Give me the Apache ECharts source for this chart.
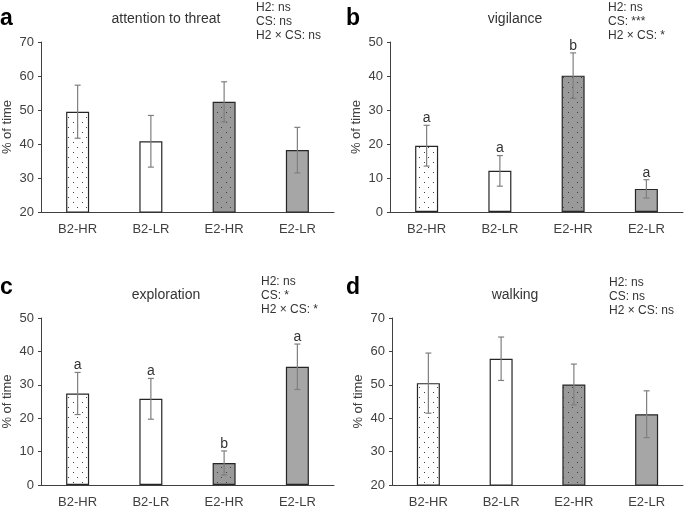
<!DOCTYPE html>
<html>
<head>
<meta charset="utf-8">
<script src="https://cdn.jsdelivr.net/npm/echarts@6/dist/echarts.min.js"></script>
<style>html,body{margin:0;padding:0;background:#fff}#c{width:685px;height:509px}</style>
</head>
<body>
<div id="c"></div>
<script>
const categories = ['B2-HR', 'B2-LR', 'E2-HR', 'E2-LR'];
const attentionMean = [49.5, 40.8, 52.4, 38.2];
const attentionErr = [7.8, 7.6, 5.9, 6.7];
const vigilanceMean = [19.5, 12.1, 40.1, 6.8];
const vigilanceErr = [6.0, 4.5, 6.7, 2.7];
const vigilanceLetters = ['a', 'a', 'b', 'a'];
const explorationMean = [27.4, 25.8, 6.6, 35.4];
const explorationErr = [6.3, 6.1, 3.6, 6.8];
const explorationLetters = ['a', 'a', 'b', 'a'];
const walkingMean = [50.5, 57.8, 50.1, 41.2];
const walkingErr = [9.0, 6.5, 6.1, 7.0];
const panelTitles = ['attention to threat', 'vigilance', 'exploration', 'walking'];
const panelLetters = ['a', 'b', 'c', 'd'];
const panelStats = [
  ['H2: ns', 'CS: ns', 'H2 \u00d7 CS: ns'],
  ['H2: ns', 'CS: ***', 'H2 \u00d7 CS: *'],
  ['H2: ns', 'CS: *', 'H2 \u00d7 CS: *'],
  ['H2: ns', 'CS: ns', 'H2 \u00d7 CS: ns']
];
const yRanges = [[20, 70], [0, 50], [0, 50], [20, 70]];

const FONT = "'Liberation Sans', Arial, sans-serif";
const TXT = '#404040';

function makeDots(bg) {
  const cv = document.createElement('canvas');
  cv.width = 9; cv.height = 10;
  const ctx = cv.getContext('2d');
  ctx.fillStyle = bg; ctx.fillRect(0, 0, 9, 10);
  ctx.fillStyle = '#404040';
  ctx.fillRect(1, 2, 1, 1);
  ctx.fillRect(5, 7, 1, 1);
  return { image: cv, repeat: 'repeat' };
}
const fills = [makeDots('#ffffff'), '#ffffff', makeDots('#9a9a9a'), '#a6a6a6'];

const grids = [
  { left: 41, top: 42, width: 293, height: 170 },
  { left: 390, top: 42, width: 293, height: 170 },
  { left: 41, top: 318, width: 293, height: 170 },
  { left: 392, top: 318, width: 291, height: 170 }
];
const means = [attentionMean, vigilanceMean, explorationMean, walkingMean];
const errs = [attentionErr, vigilanceErr, explorationErr, walkingErr];
const letters = [null, vigilanceLetters, explorationLetters, null];

const xAxes = [], yAxes = [], series = [], titles = [];
for (let p = 0; p < 4; p++) {
  xAxes.push({
    type: 'category', gridIndex: p, data: categories,
    axisLine: { lineStyle: { color: '#404040', width: 1 } },
    axisTick: { show: false },
    axisLabel: { color: TXT, fontFamily: FONT, fontSize: 13, margin: 11 }
  });
  yAxes.push({
    type: 'value', gridIndex: p, min: yRanges[p][0], max: yRanges[p][1], interval: 10,
    name: '% of time', nameLocation: 'middle', nameGap: 27,
    nameTextStyle: { color: TXT, fontFamily: FONT, fontSize: 13 },
    axisLine: { show: true, lineStyle: { color: '#404040', width: 1 } },
    axisTick: { show: true, length: 3, lineStyle: { color: '#404040' } },
    axisLabel: { color: TXT, fontFamily: FONT, fontSize: 13, margin: 7 },
    splitLine: { show: false }
  });
  series.push({
    type: 'bar', xAxisIndex: p, yAxisIndex: p, barWidth: 23,
    data: means[p].map((v, i) => ({
      value: v,
      itemStyle: { color: fills[i], borderColor: '#262626', borderWidth: 1.2 }
    })),
    animation: false
  });
  const mp = means[p], ep = errs[p], lp = letters[p];
  series.push({
    type: 'custom', xAxisIndex: p, yAxisIndex: p, animation: false, z: 5,
    data: mp.map((v, i) => [i, v, ep[i]]),
    renderItem: function (params, api) {
      const i = api.value(0), m = api.value(1), e = api.value(2);
      const top = api.coord([i, m + e]);
      const bot = api.coord([i, m - e]);
      const x = top[0], w = 3;
      const st = { stroke: '#7f7f7f', lineWidth: 1.2 };
      const children = [
        { type: 'line', shape: { x1: x, y1: top[1], x2: x, y2: bot[1] }, style: st },
        { type: 'line', shape: { x1: x - w, y1: top[1], x2: x + w, y2: top[1] }, style: st },
        { type: 'line', shape: { x1: x - w, y1: bot[1], x2: x + w, y2: bot[1] }, style: st }
      ];
      if (lp) {
        children.push({
          type: 'text',
          style: { text: lp[i], x: x, y: top[1], align: 'center', verticalAlign: 'bottom',
                   fill: '#333', font: '14px ' + FONT }
        });
      }
      return { type: 'group', children: children };
    }
  });
}

const letterPos = [[0, 7], [346, 7], [0, 276], [346, 276]];
const titlePos = [[166, 20], [515, 20], [166, 296], [515, 296]];
const statPos = [[256, 1], [608, 1], [261, 275], [609, 276]];
for (let p = 0; p < 4; p++) {
  titles.push({
    text: panelLetters[p], left: letterPos[p][0], top: letterPos[p][1], padding: 0,
    textStyle: { fontFamily: FONT, fontSize: 23, fontWeight: 'bold', color: '#000' }
  });
  titles.push({
    text: panelTitles[p], left: titlePos[p][0], top: titlePos[p][1] - 8, padding: 0,
    textAlign: 'center',
    textStyle: { fontFamily: FONT, fontSize: 14, fontWeight: 'normal', color: '#333' }
  });
  titles.push({
    text: panelStats[p].join('\n'), left: statPos[p][0], top: statPos[p][1], padding: 0,
    textStyle: { fontFamily: FONT, fontSize: 12, fontWeight: 'normal', color: '#333', lineHeight: 14 }
  });
}

const chart = echarts.init(document.getElementById('c'), null, { renderer: 'canvas' });
chart.setOption({
  backgroundColor: '#ffffff',
  animation: false,
  title: titles,
  grid: grids,
  xAxis: xAxes,
  yAxis: yAxes,
  series: series
});
</script>
</body>
</html>
